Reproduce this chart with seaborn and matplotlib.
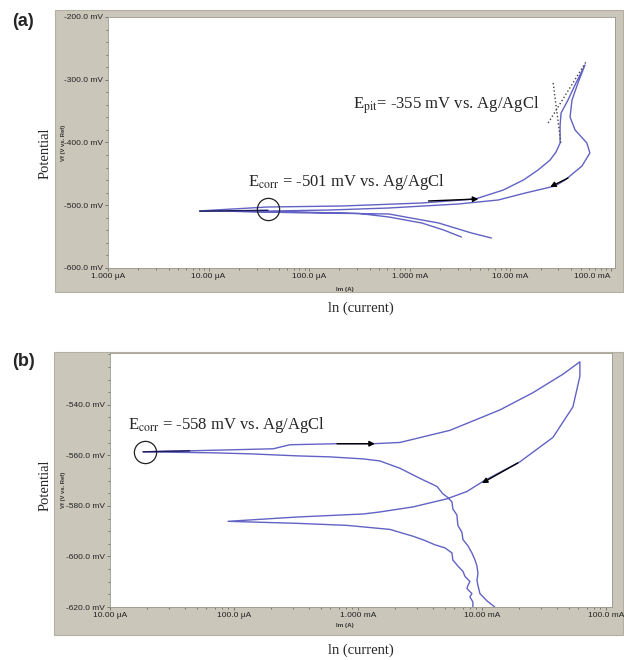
import matplotlib
matplotlib.use('Agg')
import matplotlib.pyplot as plt
from matplotlib.patches import Rectangle
from matplotlib.ticker import LogLocator, MultipleLocator, NullFormatter
import seaborn as sns

# ---- panel (a): current (A) and potential (mV vs. Ag/AgCl), one continuous scan ----
# cathodic branch -> Ecorr -> forward anodic scan -> reverse scan -> second cathodic branch
current_a = [3.27e-3, 2.17e-3, 1.32e-3, 6.19e-4, 3.13e-4, 7.96e-5, 2.55e-5, 8.15e-6,
             3.84e-5, 2.12e-4, 1.32e-3, 4.50e-3, 8.53e-3, 1.35e-2, 1.89e-2, 2.49e-2,
             2.85e-2, 3.13e-2, 3.13e-2, 3.20e-2, 3.75e-2, 4.50e-2, 5.53e-2,
             4.71e-2, 4.11e-2, 3.93e-2, 4.41e-2, 5.78e-2, 6.19e-2, 5.16e-2, 3.51e-2,
             2.79e-2, 1.41e-2, 7.60e-3, 3.05e-3, 6.19e-4, 1.58e-4, 4.02e-5, 1.61e-5,
             7.96e-5, 6.19e-4, 1.94e-3, 4.11e-3, 6.49e-3]
potential_a = [-550.6, -539.4, -528.3, -518.7, -513.1, -510.8, -510.0, -509.0,
               -502.8, -501.2, -496.4, -490.0, -475.7, -459.8, -443.8, -427.9,
               -415.1, -400.8, -372.1, -353.0, -332.3, -305.2, -276.5,
               -305.2, -332.3, -359.4, -380.1, -400.8, -416.7, -437.5, -459.8,
               -469.3, -480.5, -491.6, -498.0, -504.4, -507.6, -509.2, -509.5,
               -512.0, -513.9, -528.3, -544.2, -552.2]

# tangent lines used to read Epit
tangent1_a = ([2.67e-2, 3.20e-2], [-305.2, -404.0])
tangent2_a = ([2.38e-2, 5.65e-2], [-368.9, -271.7])

# ---- panel (b) ----
current_b = [1.27e-2, 1.10e-2, 9.64e-3, 9.29e-3, 9.12e-3, 9.29e-3, 9.12e-3, 8.79e-3,
             8.30e-3, 7.71e-3, 7.03e-3, 6.90e-3, 6.40e-3, 6.28e-3, 5.83e-3, 5.73e-3,
             5.22e-3, 4.84e-3, 4.34e-3, 3.16e-3, 2.18e-3, 1.50e-3, 1.10e-3, 5.94e-4,
             3.22e-4, 1.35e-4, 6.78e-5, 1.85e-5,
             4.42e-5, 2.07e-4, 2.83e-4, 6.78e-4, 1.32e-3, 2.18e-3, 5.52e-3, 1.40e-2,
             2.58e-2, 4.50e-2, 6.17e-2,
             6.17e-2, 5.42e-2, 3.74e-2, 2.02e-2, 1.40e-2, 1.02e-2, 7.57e-3, 5.22e-3,
             2.78e-3, 1.50e-3, 1.10e-3, 3.22e-4, 8.96e-5,
             3.22e-4, 8.14e-4, 1.81e-3, 2.78e-3, 3.47e-3, 4.18e-3, 5.03e-3, 5.73e-3,
             5.83e-3, 6.40e-3, 7.03e-3, 7.30e-3, 8.00e-3, 7.71e-3, 7.57e-3, 8.30e-3,
             8.00e-3, 8.45e-3, 8.45e-3]
potential_b = [-620.0, -617.6, -614.7, -611.5, -609.5, -606.7, -603.8, -601.4,
               -598.6, -595.8, -593.3, -590.5, -587.7, -583.6, -581.2, -578.4,
               -576.4, -575.2, -572.3, -569.1, -565.1, -562.2, -561.4, -560.6,
               -560.2, -559.4, -559.0, -558.6,
               -558.2, -557.4, -555.8, -555.4, -555.4, -554.9, -550.1, -542.0,
               -535.2, -527.9, -523.0,
               -528.7, -540.8, -552.9, -562.6, -566.7, -570.3, -574.3, -577.2,
               -580.4, -582.4, -583.2, -584.4, -586.1,
               -586.9, -587.7, -589.3, -592.0, -593.7, -595.4, -596.6, -598.6,
               -601.4, -603.8, -605.9, -607.9, -609.9, -611.5, -612.7, -614.7,
               -616.0, -618.0, -620.0]

# ---- axis ticks ----
xticks_a = [1e-6, 1e-5, 1e-4, 1e-3, 1e-2, 1e-1]
xlabels_a = ['1.000 µA', '10.00 µA', '100.0 µA', '1.000 mA', '10.00 mA', '100.0 mA']
yticks_a = [-600, -500, -400, -300, -200]
ylabels_a = ['-600.0 mV', '-500.0 mV', '-400.0 mV', '-300.0 mV', '-200.0 mV']

xticks_b = [1e-5, 1e-4, 1e-3, 1e-2, 1e-1]
xlabels_b = ['10.00 µA', '100.0 µA', '1.000 mA', '10.00 mA', '100.0 mA']
yticks_b = [-620, -600, -580, -560, -540]
ylabels_b = ['-620.0 mV', '-600.0 mV', '-580.0 mV', '-560.0 mV', '-540.0 mV']

sns.set_theme(style="white")
plt.rcParams['font.family'] = ['Liberation Sans', 'DejaVu Sans']
plt.rcParams['mathtext.fontset'] = 'stix'

LINE = '#6262c4'
FRAME = '#cac6ba'
SERIF = ['Liberation Serif', 'DejaVu Serif']
ARROW = dict(arrowstyle='-|>', color='black', lw=1.0, mutation_scale=8,
             shrinkA=0, shrinkB=0)

fig = plt.figure(figsize=(6.24, 6.6), dpi=100)
W, H = 624.0, 660.0


def px_box(l, t, r, b):
    return [l / W, 1 - b / H, (r - l) / W, (b - t) / H]


# gray instrument-software frames
for l, t, r, b in [(55, 10, 623, 292), (54, 352, 623, 635)]:
    fig.add_artist(Rectangle((l / W, 1 - b / H), (r - l) / W, (b - t) / H,
                             transform=fig.transFigure, facecolor=FRAME,
                             edgecolor='#b3afa3', lw=0.8, zorder=0))

ax_a = fig.add_axes(px_box(108, 17, 615, 268))
ax_b = fig.add_axes(px_box(110, 353, 612, 607))


def style_axis(ax, xlim, ylim, xt, xl, yt, yl, yminor):
    ax.set_xscale('log')
    ax.set_xlim(*xlim)
    ax.set_ylim(*ylim)
    ax.set_facecolor('white')
    ax.set_xticks(xt, xl)
    ax.set_yticks(yt, yl)
    ax.xaxis.set_minor_locator(LogLocator(base=10, subs=range(2, 10)))
    ax.xaxis.set_minor_formatter(NullFormatter())
    ax.yaxis.set_minor_locator(MultipleLocator(yminor))
    ax.tick_params(which='both', direction='out', color='#555555', width=0.5,
                   labelsize=6, labelcolor='#222222', pad=1,
                   left=True, bottom=True)
    ax.tick_params(which='major', length=2.5)
    ax.tick_params(which='minor', length=1.5)
    for s in ax.spines.values():
        s.set_color('#9a968c')
        s.set_linewidth(0.6)


# --- panel (a) ---
ax_a.set_xscale('log')
sns.lineplot(x=current_a, y=potential_a, sort=False, estimator=None,
             color=LINE, lw=1.0, ax=ax_a)
style_axis(ax_a, (1e-6, 1.1e-1), (-600, -200), xticks_a, xlabels_a,
           yticks_a, ylabels_a, 20)
ax_a.get_xticklabels()[-1].set_horizontalalignment('right')
ax_a.plot([8.15e-6, 3.9e-5], [-509.5, -508.0], color='#1c1c5a', lw=1.0)
ax_a.plot(*tangent1_a, ls=':', color='#444444', lw=1.0)
ax_a.plot(*tangent2_a, ls=':', color='#444444', lw=1.0)
ax_a.plot([3.93e-5], [-506], marker='o', ms=16, mfc='none', mec='#222222', mew=0.9)
ax_a.annotate('', xy=(4.82e-3, -490.0), xytext=(1.54e-3, -493.2), arrowprops=ARROW)
ax_a.annotate('', xy=(2.49e-2, -470.9), xytext=(3.75e-2, -456.6), arrowprops=ARROW)
ax_a.text(0.276, 0.343, r'E$_{\mathrm{corr}}$ = -501 mV vs. Ag/AgCl',
          transform=ax_a.transAxes, ha='left', va='center', size=12, family=SERIF)
ax_a.text(0.483, 0.649, r'E$_{\mathrm{pit}}$= -355 mV vs. Ag/AgCl',
          transform=ax_a.transAxes, ha='left', va='center', size=12, family=SERIF)

# --- panel (b) ---
ax_b.set_xscale('log')
sns.lineplot(x=current_b, y=potential_b, sort=False, estimator=None,
             color=LINE, lw=1.0, ax=ax_b)
style_axis(ax_b, (1e-5, 1.12e-1), (-620, -519.5), xticks_b, xlabels_b,
           yticks_b, ylabels_b, 5)
ax_b.plot([1.85e-5, 4.4e-5], [-558.6, -558.2], color='#1c1c5a', lw=1.0)
ax_b.plot([1.91e-5], [-558.6], marker='o', ms=16, mfc='none', mec='#222222', mew=0.9)
ax_b.annotate('', xy=(1.37e-3, -555.4), xytext=(6.78e-4, -555.4), arrowprops=ARROW)
ax_b.annotate('', xy=(1.0e-2, -571.0), xytext=(1.95e-2, -563.0), arrowprops=ARROW)
ax_b.text(0.036, 0.717, r'E$_{\mathrm{corr}}$ = -558 mV vs. Ag/AgCl',
          transform=ax_b.transAxes, ha='left', va='center', size=12, family=SERIF)

# --- labels outside the plots ---
for tag, y_tag, y_pot, y_vf, y_im, y_ln in [('(a)', 22, 153, 143, 289, 308),
                                            ('(b)', 362, 485, 490, 625, 650)]:
    fig.text(12 / W, 1 - y_tag / H, tag, ha='left', va='center', size=13,
             weight='bold')
    fig.text(45 / W, 1 - y_pot / H, 'Potential', rotation=90, ha='center',
             va='center', size=10.5, family=SERIF)
    fig.text(63 / W, 1 - y_vf / H, 'Vf (V vs. Ref)', rotation=90, ha='center',
             va='center', size=4.2, weight='bold', color='#333333')
    fig.text(345 / W, 1 - y_im / H, 'Im (A)', ha='center', va='center',
             size=4.5, weight='bold', color='#333333')
    fig.text(361 / W, 1 - y_ln / H, 'ln (current)', ha='center', va='center',
             size=10.5, family=SERIF)

fig.savefig('out.png', dpi=100, facecolor='white')
